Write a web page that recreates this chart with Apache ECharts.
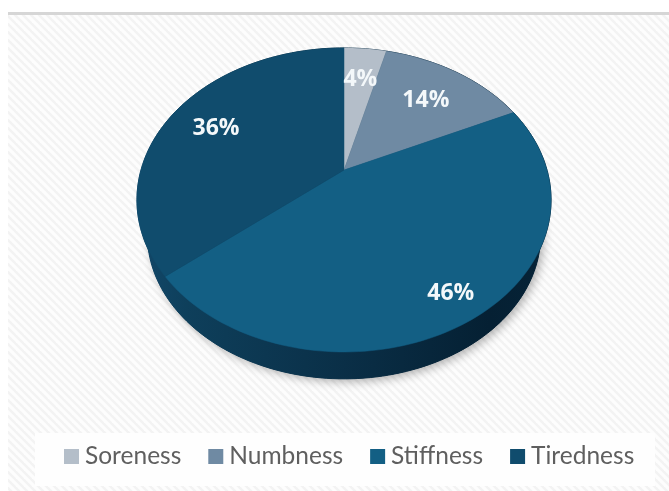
<!DOCTYPE html>
<html><head><meta charset="utf-8">
<style>html,body{margin:0;padding:0;background:#fff}#c{width:669px;height:491px}</style>
<script src="https://cdn.jsdelivr.net/npm/echarts@6/dist/echarts.min.js"></script>
</head><body><div id="c"></div>
<script>
const categories = ['Soreness','Numbness','Stiffness','Tiredness'];
const values = [4,14,46,36];
const colors = ['#b4bec9','#6f8aa3','#135f84','#104c6d'];
const labelRadius = [0.734,0.70,0.844,0.74];
const total = values.reduce((a,b)=>a+b,0);

// Tilted-disc projection: unit disc -> perspective ellipse on the page
const APEX = [344,170], D = 203, A = 146.1, C = -0.197;
const BASE_SCALE = 0.95, BASE_DROP = 36;
function project(u,v,base){
  const w = C*v+1, s = base?BASE_SCALE:1;
  return [APEX[0]+s*D*u/w, APEX[1]+s*A*v/w+(base?BASE_DROP:0)];
}
function onDisc(frac,r,base){
  const t = frac*2*Math.PI;
  return project(r*Math.sin(t),-r*Math.cos(t),base);
}
function arc(f0,f1,base){
  const n = Math.max(2,Math.ceil((f1-f0)*240)), p=[];
  for(let i=0;i<=n;i++) p.push(onDisc(f0+(f1-f0)*i/n,1,base));
  return p;
}
function wallFill(){
  return new echarts.graphic.LinearGradient(137,0,551,0,[
    {offset:0,color:'#12486a'},{offset:0.12,color:'#0e3f5b'},{offset:0.5,color:'#0a2f47'},{offset:0.85,color:'#052033'},{offset:1,color:'#062337'}],true);
}
function renderSlice(idx){
  return function(){
    const start = values.slice(0,idx).reduce((a,b)=>a+b,0)/total;
    const end = start+values[idx]/total;
    const mid = (start+end)/2;
    const top = arc(start,end,false);
    const wall = top.concat(arc(start,end,true).reverse());
    const lp = onDisc(mid,labelRadius[idx],false);
    const children = [
      {type:'polygon',z2:1,shape:{points:wall},style:{fill:wallFill(),stroke:wallFill(),lineWidth:1}},
      {type:'polygon',z2:5,shape:{points:[APEX.slice()].concat(top)},
        style:{fill:colors[idx],stroke:colors[idx],lineWidth:0.5}},
      {type:'text',z2:10,x:lp[0],y:lp[1]+2,style:{text:Math.round(values[idx]/total*100)+'%',
        fill:'#f4f8fa',font:'bold 23px "Open Sans"',align:'center',verticalAlign:'middle'}}
    ];
    if(idx===0){
      children.unshift({type:'polygon',z2:0,shape:{points:arc(0,1,true)},style:{
        fill:'#0a2f47',shadowBlur:10,shadowColor:'rgba(0,0,0,0.3)',shadowOffsetX:3,shadowOffsetY:3}});
    }
    return {type:'group',children};
  };
}
const hatch = document.createElement('canvas');
hatch.width = hatch.height = 8;
(function(){
  const g = hatch.getContext('2d');
  g.fillStyle='#fdfdfd'; g.fillRect(0,0,8,8);
  g.strokeStyle='#f3f3f3'; g.lineWidth=2.4;
  [[-2,-2,10,10],[-6,2,6,14],[2,-6,14,6]].forEach(s=>{g.beginPath();g.moveTo(s[0],s[1]);g.lineTo(s[2],s[3]);g.stroke();});
})();
const chart = echarts.init(document.getElementById('c'),null,{renderer:'canvas'});
chart.setOption({
  animation:false,
  backgroundColor:'#ffffff',
  graphic:{elements:[
    {type:'rect',z:-10,shape:{x:8,y:14,width:661,height:477},style:{fill:{image:hatch,repeat:'repeat'}},silent:true},
    {type:'rect',z:-9,shape:{x:8,y:12,width:661,height:3},style:{fill:'#d6d6d6'},silent:true},
    {type:'rect',z:-9,shape:{x:35,y:433,width:620,height:53},style:{fill:'#fefefe'},silent:true}
  ]},
  legend:{
    left:64,top:444,itemWidth:15,itemHeight:15,itemGap:27,padding:0,
    icon:'rect',
    textStyle:{color:'#5f5f5f',fontFamily:'Lato',fontSize:24.5,padding:[0,0,0,1]},
    data:categories
  },
  series:categories.map((name,i)=>({
    type:'custom',name,coordinateSystem:'none',
    itemStyle:{color:colors[i]},
    renderItem:renderSlice(i),
    data:[values[i]],silent:true
  }))
});
</script></body></html>
